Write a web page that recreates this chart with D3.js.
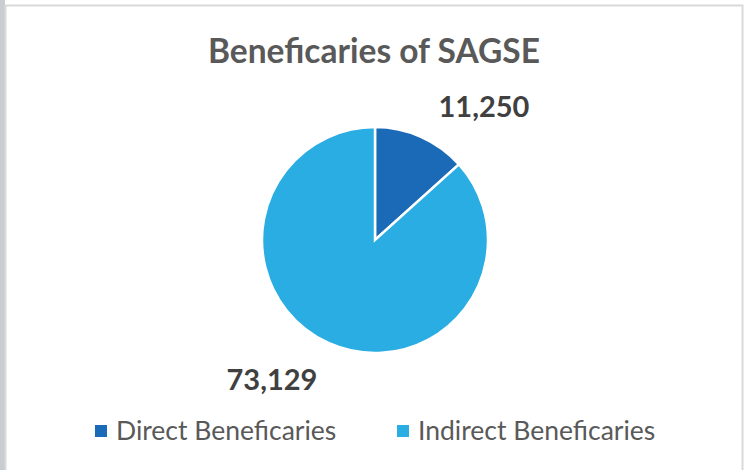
<!DOCTYPE html>
<html>
<head>
<meta charset="utf-8">
<script src="https://cdn.jsdelivr.net/npm/d3@7"></script>
<style>
  body { margin: 0; background: #fff; }
  svg text { font-family: Lato, "Open Sans", sans-serif; }
</style>
</head>
<body>
<div class="canvas"></div>
<script>
const categories = ['Direct Beneficaries', 'Indirect Beneficaries'];
const values = [11250, 73129];
const colours = ['#1a6ab7', '#29ade3'];

const dims = { width: 745, height: 470, radius: 113 };
const cent = { x: 375, y: 240 };

const svg = d3.select('.canvas')
    .append('svg')
    .attr('width', dims.width)
    .attr('height', dims.height)
;

// frame
svg.append('rect')
    .attr('x', 0).attr('y', 0)
    .attr('width', 5).attr('height', dims.height)
    .attr('fill', '#c9ccd0');
svg.append('rect')
    .attr('x', 5.5).attr('y', 5.5)
    .attr('width', 737).attr('height', 470)
    .attr('fill', '#fff')
    .attr('stroke', '#d9d9d9')
    .attr('stroke-width', 2);

svg.append('text')
    .attr('x', 374).attr('y', 63)
    .attr('text-anchor', 'middle')
    .attr('font-size', 33.5)
    .attr('font-weight', 'bold')
    .attr('fill', '#595959')
    .text('Beneficaries of SAGSE');

const data = categories.map((c, i) => ({ name: c, value: values[i] }));

const colour = d3.scaleOrdinal().domain(categories).range(colours);

const pie = d3.pie()
    .sort(null)
    .value(d => d.value)
;

const arcPath = d3.arc()
    .outerRadius(dims.radius)
    .innerRadius(0)
;

const graph = svg.append('g')
    .attr('transform', `translate(${cent.x}, ${cent.y})`);

const arcs = pie(data);

graph.selectAll('path')
    .data(arcs)
    .enter()
    .append('path')
    .attr('d', arcPath)
    .attr('fill', d => colour(d.data.name))
    .attr('stroke', 'white')
    .attr('stroke-width', 2.5)
;

// value labels, outside the slices
const labelPos = [{ x: 484, y: 117 }, { x: 272, y: 390 }];
svg.selectAll('.val')
    .data(arcs)
    .enter()
    .append('text')
    .attr('class', 'val')
    .attr('x', (d, i) => labelPos[i].x)
    .attr('y', (d, i) => labelPos[i].y)
    .attr('text-anchor', 'middle')
    .attr('font-size', 29)
    .attr('font-weight', 'bold')
    .attr('fill', '#404040')
    .text(d => d3.format(',')(d.data.value));

// legend
const legendX = [95, 397];
const legend = svg.selectAll('.leg')
    .data(categories)
    .enter()
    .append('g')
    .attr('class', 'leg')
    .attr('transform', (d, i) => `translate(${legendX[i]}, 425)`);

legend.append('rect')
    .attr('width', 12).attr('height', 12)
    .attr('fill', d => colour(d));

legend.append('text')
    .attr('x', 21).attr('y', 15)
    .attr('font-size', 26.5)
    .attr('fill', '#595959')
    .text(d => d);
</script>
</body>
</html>
